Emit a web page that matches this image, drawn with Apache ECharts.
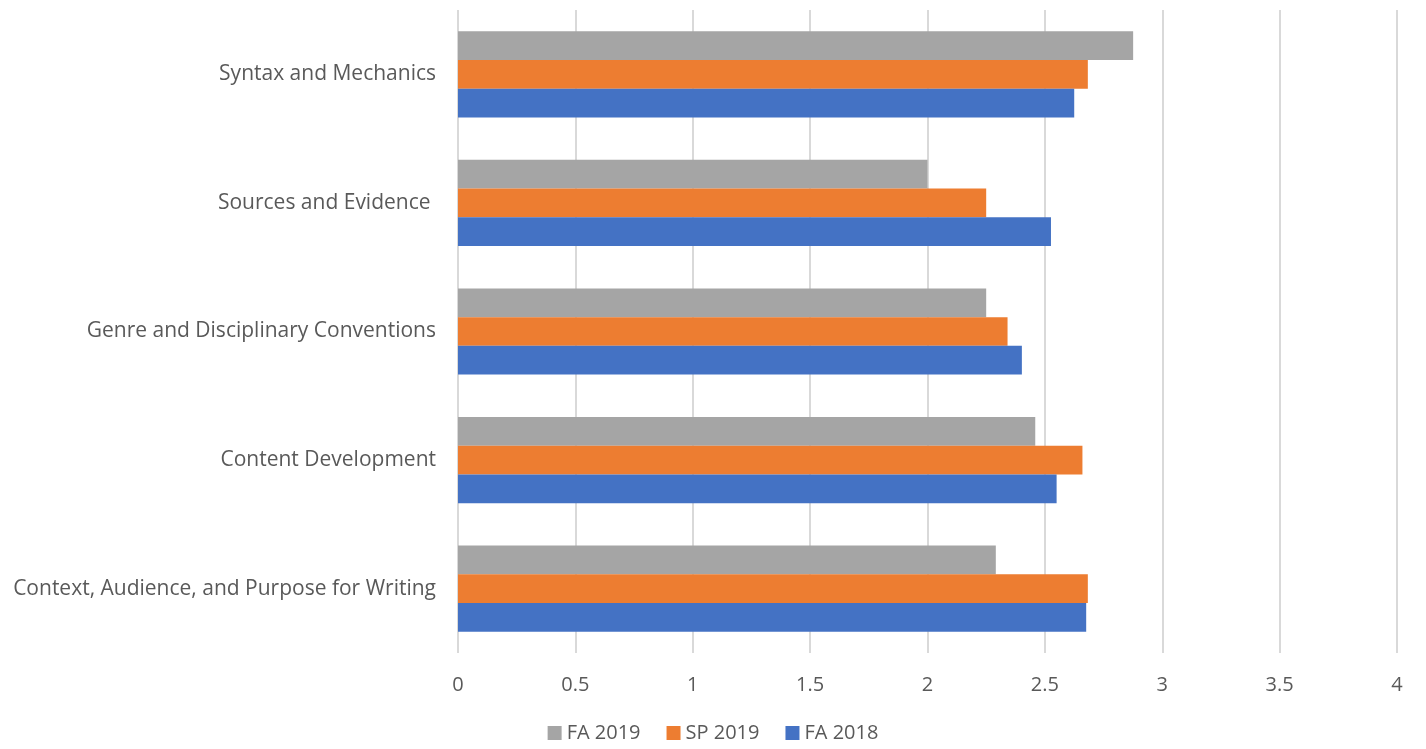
<!DOCTYPE html>
<html><head><meta charset="utf-8">
<script src="https://cdn.jsdelivr.net/npm/echarts@6/dist/echarts.min.js"></script>
<style>html,body{margin:0;padding:0;background:#fff}#c{width:1426px;height:749px}</style>
</head><body><div id="c"></div>
<script>
const categories = ['Context, Audience, and Purpose for Writing', 'Content Development', 'Genre and Disciplinary Conventions', 'Sources and Evidence ', 'Syntax and Mechanics'];
const fa2018 = [2.676, 2.55, 2.402, 2.526, 2.625];
const sp2019 = [2.683, 2.66, 2.341, 2.25, 2.683];
const fa2019 = [2.291, 2.459, 2.25, 2.0, 2.876];
const xTicks = [0, 0.5, 1, 1.5, 2, 2.5, 3, 3.5, 4];

const font = 'Open Sans';
const txt = '#595959';
const chart = echarts.init(document.getElementById('c'));
chart.setOption({
  animation: false,
  grid: {left: 458, right: 29, top: 10, bottom: 96, containLabel: false},
  legend: {
    data: ['FA 2019', 'SP 2019', 'FA 2018'], bottom: 1, left: 'center',
    itemWidth: 14, itemHeight: 14, itemGap: 26, icon: 'rect',
    textStyle: {color: txt, fontFamily: font, fontSize: 20}
  },
  xAxis: {
    type: 'value', min: xTicks[0], max: xTicks[xTicks.length - 1], interval: 0.5,
    axisLine: {show: false}, axisTick: {show: false},
    splitLine: {show: true, lineStyle: {color: '#d9d9d9', width: 2}},
    axisLabel: {color: txt, fontFamily: font, fontSize: 20, margin: 22}
  },
  yAxis: {
    type: 'category', data: categories,
    axisLine: {show: false}, axisTick: {show: false},
    axisLabel: {color: txt, fontFamily: font, fontSize: 21, margin: 22}
  },
  series: [
    {name: 'FA 2019', type: 'bar', data: fa2019, itemStyle: {color: '#A5A5A5'}, barGap: '0%', barCategoryGap: '33%'},
    {name: 'SP 2019', type: 'bar', data: sp2019, itemStyle: {color: '#ED7D31'}, barGap: '0%', barCategoryGap: '33%'},
    {name: 'FA 2018', type: 'bar', data: fa2018, itemStyle: {color: '#4472C4'}, barGap: '0%', barCategoryGap: '33%'}
  ]
});
</script></body></html>
